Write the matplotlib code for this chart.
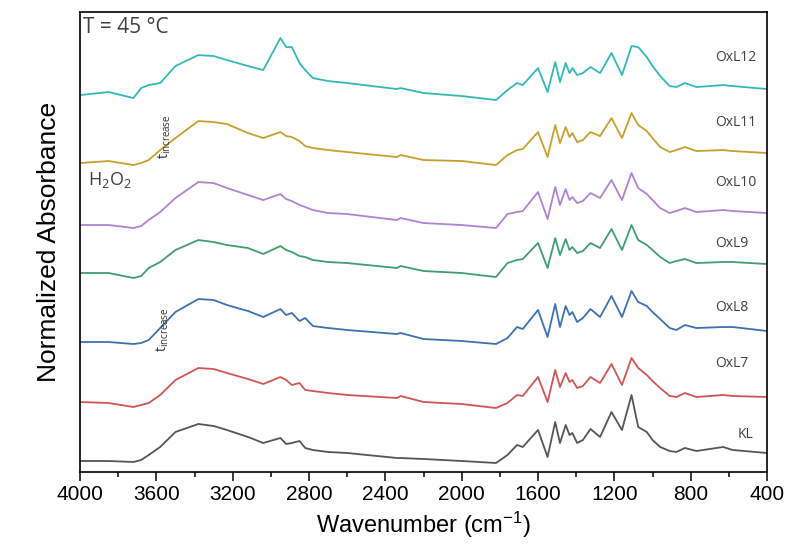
import numpy as np
import matplotlib
matplotlib.use('Agg')
import matplotlib.pyplot as plt

plt.rcParams['mathtext.default'] = 'regular'

wn = [4000, 3850, 3720, 3680, 3640, 3580, 3500, 3380, 3300, 3230, 3120, 3040,
      2950, 2920, 2890, 2850, 2820, 2780, 2700, 2600, 2340, 2320, 2200, 2000,
      1820, 1760, 1710, 1680, 1600, 1550, 1510, 1485, 1455, 1435, 1420, 1395,
      1365, 1325, 1275, 1215, 1160, 1110, 1075, 1030, 1000, 960, 910, 875, 830,
      770, 630, 580, 400]

# stacked normalized absorbance (offset included), arbitrary units
kl = [11, 11, 10, 12, 17, 25, 40, 48, 46, 42, 35, 29, 34, 28, 29, 31, 24, 22,
      20, 19, 14, 14, 13, 11, 9, 17, 27, 25, 42, 15, 50, 29, 47, 37, 39, 29,
      32, 43, 35, 60, 42, 77, 45, 40, 32, 25, 21, 20, 24, 21, 25, 22, 19]
oxl7 = [70, 69, 65, 67, 69, 77, 92, 104, 103, 99, 93, 88, 95, 92, 87, 89, 82,
        81, 79, 77, 74, 76, 70, 68, 64, 69, 77, 76, 95, 70, 102, 85, 99, 90, 92,
        84, 86, 95, 89, 108, 87, 114, 104, 97, 91, 84, 76, 75, 79, 75, 77, 76, 75]
oxl8 = [130, 130, 128, 129, 132, 144, 160, 173, 172, 167, 161, 155, 163, 157,
        159, 151, 154, 146, 144, 142, 138, 139, 133, 131, 128, 134, 145, 143,
        162, 135, 168, 145, 166, 157, 160, 150, 154, 163, 155, 176, 155, 181,
        170, 166, 160, 153, 144, 142, 147, 144, 145, 145, 141]
oxl9 = [199, 199, 194, 196, 204, 210, 222, 232, 230, 227, 224, 218, 226, 222,
        220, 216, 215, 212, 210, 209, 204, 206, 201, 199, 195, 209, 212, 213,
        229, 204, 234, 217, 233, 222, 225, 219, 221, 229, 224, 243, 222, 247,
        232, 227, 222, 215, 209, 211, 213, 209, 210, 210, 208]
oxl10 = [247, 247, 244, 246, 252, 260, 274, 290, 289, 284, 277, 272, 278, 273,
         271, 267, 265, 262, 259, 258, 252, 254, 249, 247, 244, 258, 260, 261,
         280, 253, 285, 267, 283, 272, 275, 269, 271, 279, 274, 292, 272, 299,
         284, 278, 272, 264, 259, 261, 264, 260, 262, 261, 259]
oxl11 = [309, 311, 307, 309, 312, 322, 334, 351, 350, 348, 339, 334, 340, 336,
         335, 331, 326, 324, 322, 320, 315, 317, 312, 311, 307, 317, 322, 323,
         340, 315, 347, 329, 345, 335, 339, 330, 332, 340, 336, 354, 334, 359,
         347, 341, 334, 325, 320, 322, 325, 321, 322, 321, 319]
oxl12 = [377, 380, 374, 384, 387, 389, 406, 417, 416, 412, 406, 402, 434, 425,
         425, 409, 402, 394, 391, 389, 383, 384, 379, 376, 372, 382, 389, 387,
         404, 380, 410, 390, 409, 399, 404, 397, 399, 405, 399, 419, 397, 426,
         425, 415, 406, 396, 386, 385, 389, 385, 387, 386, 383]

names = ['KL', 'OxL7', 'OxL8', 'OxL9', 'OxL10', 'OxL11', 'OxL12']
label_x = [552, 672, 672, 672, 672, 672, 672]
label_y = [37, 109, 165, 229, 290, 350, 415]
colores = ['#555555', '#d05555', '#3b70b2', '#3f9d70', '#b083d0', '#c6a02c', '#33b8b8']
series = [kl, oxl7, oxl8, oxl9, oxl10, oxl11, oxl12]

fig = plt.figure(figsize=(7.87, 5.48), dpi=100)
ax = fig.add_axes([0.1017, 0.1387, 0.8729, 0.8393])

for s, c in zip(series, colores):
    ax.plot(wn, s, color=c, lw=1.3)

for n, x, y in zip(names, label_x, label_y):
    ax.text(x, y, n, fontsize=10, family='Open Sans', color='#404040',
            ha='left', va='center')

ax.text(3985, 445, 'T = 45 °C', fontsize=15, family='Open Sans', color='#404040',
        ha='left', va='center')
ax.text(3958, 292, r'H$_2$O$_2$', fontsize=13, family='Open Sans', color='#404040',
        ha='left', va='center')
ax.text(3555, 335, r't$_{increase}$', fontsize=10, family='Open Sans', color='#303030',
        rotation=90, ha='center', va='center')
ax.text(3565, 142, r't$_{increase}$', fontsize=10, family='Open Sans', color='#303030',
        rotation=90, ha='center', va='center')

ax.set_xlim(4000, 400)
ax.set_ylim(0, 460)
ax.set_xticks(np.arange(4000, 399, -400))
ax.set_xticks(np.arange(3800, 400, -400), minor=True)
ax.set_yticks([])
ax.tick_params(axis='x', which='major', length=6.5, width=1.1, direction='out',
               labelsize=15, pad=3)
ax.tick_params(axis='x', which='minor', length=3.5, width=1.1, direction='out')
for lab in ax.get_xticklabels():
    lab.set_family('Liberation Sans')
for sp in ax.spines.values():
    sp.set_linewidth(1.2)

ax.set_xlabel(r'Wavenumber (cm$^{-1}$)', fontsize=17, family='Liberation Sans', labelpad=4)
ax.set_ylabel('Normalized Absorbance', fontsize=19, family='Liberation Sans', labelpad=14)

plt.savefig('out.png', dpi=100)
